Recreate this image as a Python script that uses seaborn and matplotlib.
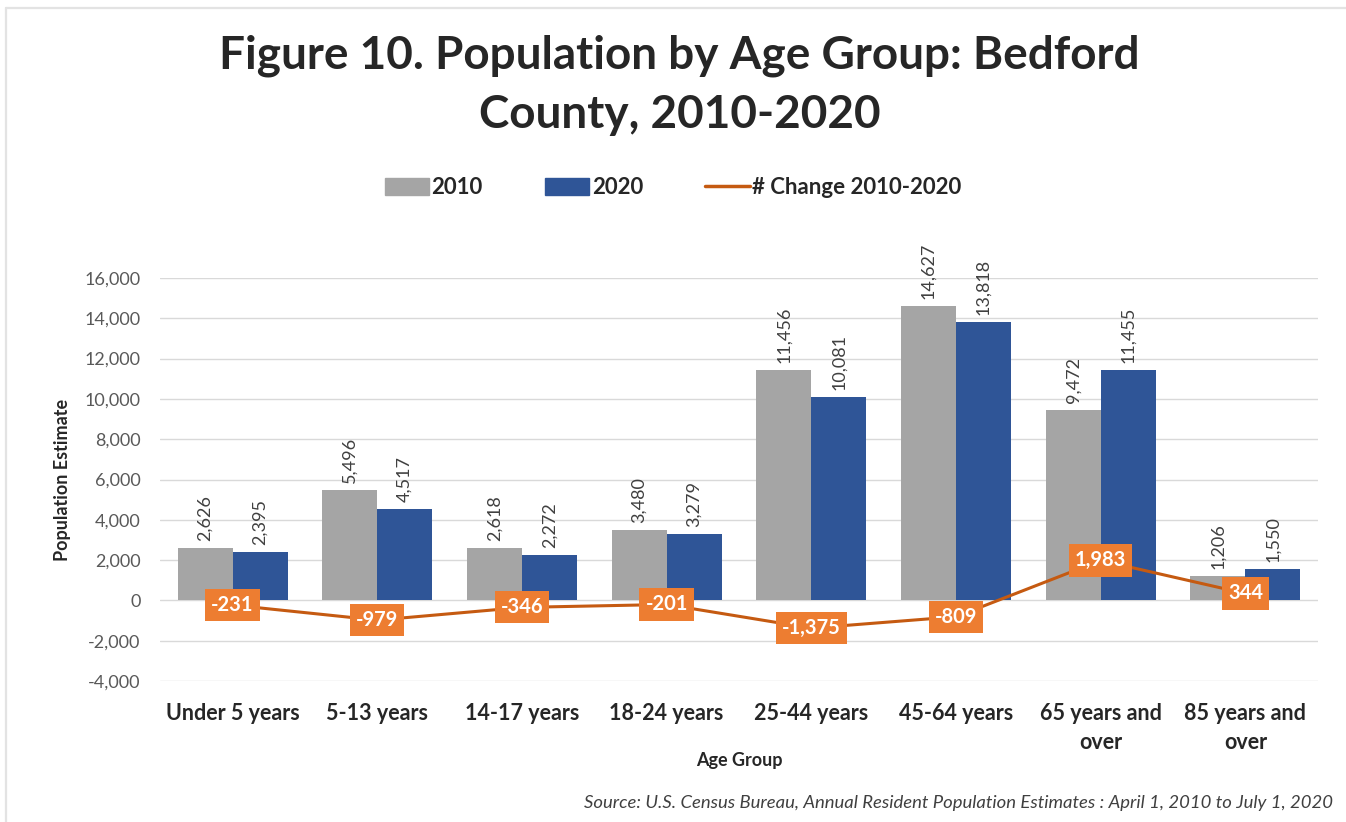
import matplotlib
matplotlib.use('Agg')
import matplotlib.pyplot as plt
import pandas as pd
import seaborn as sns
from matplotlib.patches import Patch
from matplotlib.lines import Line2D
from matplotlib.ticker import FuncFormatter

# Data
groups = ['Under 5 years', '5-13 years', '14-17 years', '18-24 years',
          '25-44 years', '45-64 years', '65 years and\nover', '85 years and\nover']
pop_2010 = [2626, 5496, 2618, 3480, 11456, 14627, 9472, 1206]
pop_2020 = [2395, 4517, 2272, 3279, 10081, 13818, 11455, 1550]
change = [-231, -979, -346, -201, -1375, -809, 1983, 344]

df = pd.DataFrame({
    'group': groups * 2,
    'year': ['2010'] * len(groups) + ['2020'] * len(groups),
    'value': pop_2010 + pop_2020,
})

sns.set_style('white')
plt.rcParams['font.family'] = ['Lato', 'DejaVu Sans']

fig = plt.figure(figsize=(13.46, 8.22), dpi=100)
ax = fig.add_axes([0.119, 0.1715, 0.860, 0.4903])

colors = {'2010': '#A5A5A5', '2020': '#2F5597'}
sns.barplot(data=df, x='group', y='value', hue='year', palette=colors,
            saturation=1, width=0.76, gap=0, linewidth=0, ax=ax,
            legend=False, zorder=2)

# rotated value labels above bars
for cont in ax.containers:
    vals = [b.get_height() for b in cont]
    ax.bar_label(cont, labels=[f'{int(v):,}' for v in vals], rotation=90,
                 padding=5, fontsize=13, color='#404040', clip_on=False)

# change line with boxed labels
xpos = list(range(len(groups)))
sns.lineplot(x=xpos, y=change, color='#C55A11', linewidth=2.2, ax=ax, zorder=3)
for x, c in zip(xpos, change):
    ax.text(x, c, f'{c:,}', ha='center', va='center', fontsize=14.5,
            fontweight='bold', color='white', zorder=4,
            bbox=dict(boxstyle='square,pad=0.3', fc='#ED7D31', ec='none'))

ax.set_ylim(-4000, 16000)
ax.set_xlim(-0.5, len(groups) - 0.5)
ax.set_yticks(range(-4000, 16001, 2000))
ax.yaxis.set_major_formatter(FuncFormatter(lambda v, p: f'{int(v):,}'))
ax.grid(axis='y', color='#D9D9D9', linewidth=1, zorder=0)
ax.set_axisbelow(True)
for s in ax.spines.values():
    s.set_visible(False)
ax.tick_params(axis='y', labelsize=13, labelcolor='#595959', length=0, pad=14)
ax.tick_params(axis='x', labelsize=15.5, length=0, pad=16)
for lbl in ax.get_xticklabels():
    lbl.set_fontweight('bold')
    lbl.set_linespacing(1.45)

ax.set_xlabel('Age Group', fontsize=13, fontweight='bold')
ax.xaxis.set_label_coords(0.5, -0.176)
ax.set_ylabel('Population Estimate', fontsize=13, fontweight='bold', labelpad=10)

fig.suptitle('Figure 10. Population by Age Group: Bedford\nCounty, 2010-2020',
             x=0.505, y=0.958, fontsize=33, fontweight='bold', linespacing=1.5)

handles = [Patch(color=colors['2010'], label='2010'),
           Patch(color=colors['2020'], label='2020'),
           Line2D([0], [0], color='#C55A11', lw=2.5, label='# Change 2010-2020')]
fig.legend(handles=handles, loc='center', bbox_to_anchor=(0.5, 0.772), ncol=3,
           frameon=False, prop={'size': 16, 'weight': 'bold'},
           handlelength=2.0, handleheight=0.8, handletextpad=0.1, columnspacing=2.8)

fig.text(0.99, 0.023, 'Source: U.S. Census Bureau, Annual Resident Population Estimates : April 1, 2010 to July 1, 2020',
         ha='right', va='center', fontsize=13.3, style='italic', color='#404040')

# faint chart-area border along the top and left edge
fig.add_artist(Line2D([0.0041, 1.0], [0.9897, 0.9897], color='#E3E3E3', lw=1.6))
fig.add_artist(Line2D([0.0041, 0.0041], [0.0, 0.9897], color='#E3E3E3', lw=1.6))

fig.savefig('out.png', dpi=100)
